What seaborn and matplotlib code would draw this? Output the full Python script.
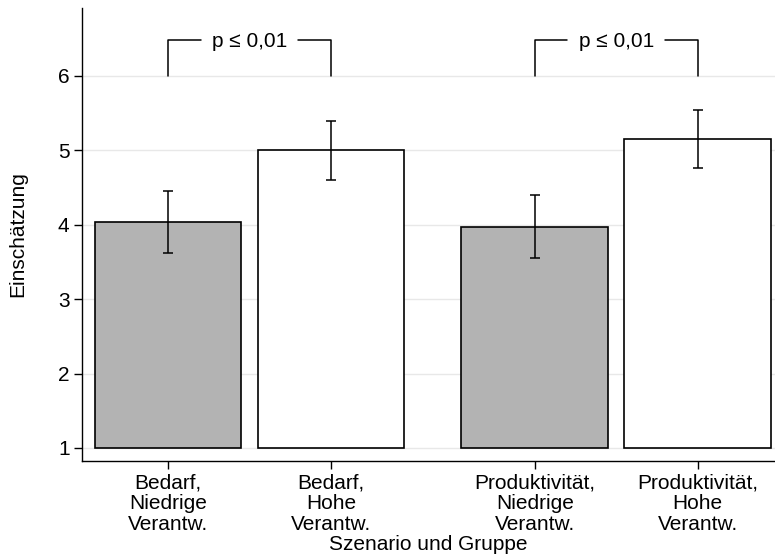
import numpy as np
import pandas as pd
import matplotlib
matplotlib.use("Agg")
import matplotlib.pyplot as plt
import seaborn as sns

# Daten
gruppen = ["Bedarf,\nNiedrige\nVerantw.", "Bedarf,\nHohe\nVerantw.",
           "Produktivität,\nNiedrige\nVerantw.", "Produktivität,\nHohe\nVerantw."]
verantwortung = ["Niedrige", "Hohe", "Niedrige", "Hohe"]
positionen = [0, 1, 2.25, 3.25]
mittelwerte = [4.04, 5.00, 3.97, 5.15]
ci_unten = [3.62, 4.60, 3.55, 4.76]
ci_oben = [4.45, 5.39, 4.40, 5.54]
basis = 1
paare = [(0, 1), (2, 3)]
p_text = "p ≤ 0,01"

df = pd.DataFrame({
    "pos": positionen,
    "hoehe": np.array(mittelwerte) - basis,
    "Verantwortung": verantwortung,
})

sns.set_style("white", {"text.color": "black", "axes.labelcolor": "black",
                        "xtick.color": "black", "ytick.color": "black"})
plt.rcParams["font.family"] = ["Liberation Sans", "DejaVu Sans"]
plt.rcParams["font.size"] = 15

fig = plt.figure(figsize=(7.75, 5.6), dpi=100)
ax = fig.add_axes([82 / 775, 1 - 461 / 560, 693 / 775, (461 - 8) / 560])

# Gitterlinien
for yv in range(1, 7):
    ax.axhline(yv, color="#e8e8e8", lw=1.0, zorder=0)

sns.barplot(data=df, x="pos", y="hoehe", hue="Verantwortung", native_scale=True,
            palette={"Niedrige": "#b3b3b3", "Hohe": "white"}, width=0.9,
            edgecolor="black", linewidth=1.2, bottom=basis, legend=False,
            errorbar=None, ax=ax, zorder=2)

fehler = [np.array(mittelwerte) - np.array(ci_unten), np.array(ci_oben) - np.array(mittelwerte)]
ax.errorbar(positionen, mittelwerte, yerr=fehler, fmt="none", ecolor="black",
            elinewidth=1.1, capsize=3.6, capthick=1.1, zorder=3)

# Signifikanz-Klammern
for a, b in paare:
    x0, x1 = positionen[a], positionen[b]
    mid = (x0 + x1) / 2
    span = x1 - x0
    ax.plot([x0, x0, x0 + 0.2 * span], [6.0, 6.48, 6.48], color="black", lw=1.1, zorder=3)
    ax.plot([x1 - 0.2 * span, x1, x1], [6.48, 6.48, 6.0], color="black", lw=1.1, zorder=3)
    ax.text(mid, 6.46, p_text, ha="center", va="center", fontsize=15, color="black")

ax.set_xlim(-0.528, 3.724)
ax.set_ylim(0.825, 6.914)
ax.set_yticks(range(1, 7))
ax.set_xticks(positionen)
ax.set_xticklabels(gruppen, linespacing=1.1)
ax.tick_params(axis="both", direction="out", length=6, width=1, color="black",
               labelcolor="black", labelsize=15, pad=3, left=True, bottom=True)
ax.set_xlabel("Szenario und Gruppe", fontsize=15, labelpad=1)
ax.set_ylabel("Einschätzung", fontsize=15, labelpad=22)

sns.despine(ax=ax)
for s in ["left", "bottom"]:
    ax.spines[s].set_color("black")
    ax.spines[s].set_linewidth(1)

fig.savefig("out.png", dpi=100)
